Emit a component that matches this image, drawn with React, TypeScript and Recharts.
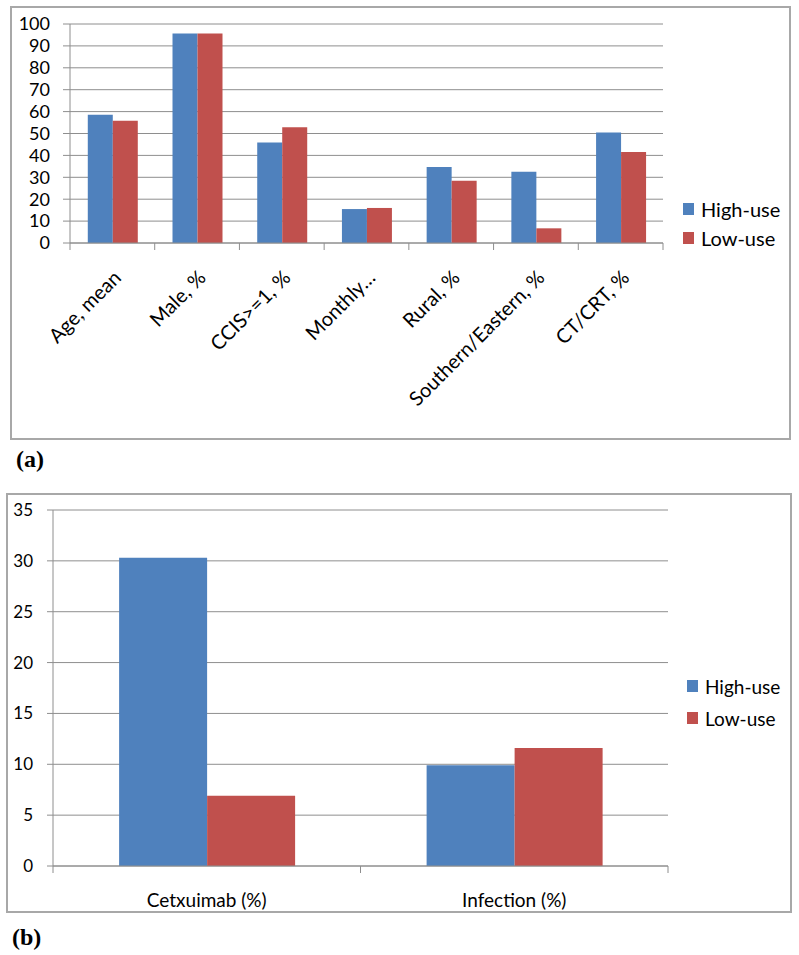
import { BarChart, Bar, XAxis, YAxis, CartesianGrid, Legend } from "recharts";

const categoriesA = [
  "Age, mean",
  "Male, %",
  "CCIS>=1, %",
  "Monthly…",
  "Rural, %",
  "Southern/Eastern, %",
  "CT/CRT, %",
];
const highUseA = [58.6, 95.7, 45.9, 15.5, 34.7, 32.5, 50.5];
const lowUseA = [55.8, 95.7, 52.9, 16, 28.4, 6.7, 41.5];
const ticksA = [0, 10, 20, 30, 40, 50, 60, 70, 80, 90, 100];

const categoriesB = ["Cetxuimab (%)", "Infection (%)"];
const highUseB = [30.3, 9.9];
const lowUseB = [6.9, 11.6];
const ticksB = [0, 5, 10, 15, 20, 25, 30, 35];

const BLUE = "#4F81BD";
const RED = "#C0504D";
const GRID = "#8e8e8e";

const dataA = categoriesA.map((name, i) => ({
  name,
  high: highUseA[i],
  low: lowUseA[i],
}));
const dataB = categoriesB.map((name, i) => ({
  name,
  high: highUseB[i],
  low: lowUseB[i],
}));

type TickProps = {
  x?: number;
  y?: number;
  index?: number;
  visibleTicksCount?: number;
  payload?: { value: string };
};

function BoundaryMarks({ x, y, half, last }: { x: number; y: number; half: number; last: boolean }) {
  return (
    <>
      <line x1={x - half} x2={x - half} y1={y} y2={y + 7} stroke={GRID} />
      {last && <line x1={x + half} x2={x + half} y1={y} y2={y + 7} stroke={GRID} />}
    </>
  );
}

function makeRotatedTick(half: number) {
  return function RotatedTick({ x = 0, y = 0, index = 0, visibleTicksCount = 0, payload }: TickProps) {
    return (
      <g>
        <BoundaryMarks x={x} y={y} half={half} last={index === visibleTicksCount - 1} />
        <text
          transform={`translate(${x + 10},${y + 36}) rotate(-45)`}
          textAnchor="end"
          fontSize={20}
          fill="#000"
        >
          {payload?.value}
        </text>
      </g>
    );
  };
}

function makeFlatTick(half: number) {
  return function FlatTick({ x = 0, y = 0, index = 0, visibleTicksCount = 0, payload }: TickProps) {
    return (
      <g>
        <BoundaryMarks x={x} y={y} half={half} last={index === visibleTicksCount - 1} />
        <text x={x} y={y + 41} textAnchor="middle" fontSize={19} fill="#000">
          {payload?.value}
        </text>
      </g>
    );
  };
}

function LegendBox({ payload, rowH, fontSize }: { payload?: any[]; rowH: number; fontSize: number }) {
  return (
    <div>
      {(payload ?? []).map((p) => (
        <div key={p.value} style={{ display: "flex", alignItems: "center", height: rowH }}>
          <span
            style={{ width: 11, height: 12, background: p.color, marginRight: 7, display: "inline-block" }}
          />
          <span style={{ fontSize, color: "#000" }}>{p.value}</span>
        </div>
      ))}
    </div>
  );
}

const PLOT_A = { left: 70, right: 663 };
const PLOT_B = { left: 53, right: 668 };
const halfA = (PLOT_A.right - PLOT_A.left) / categoriesA.length / 2;
const halfB = (PLOT_B.right - PLOT_B.left) / categoriesB.length / 2;

export default function App() {
  return (
    <div
      style={{
        position: "absolute",
        left: 0,
        top: 0,
        width: 799,
        height: 955,
        background: "#fff",
        fontFamily: "Lato, sans-serif",
      }}
    >
      <div
        style={{
          position: "absolute",
          left: 10,
          top: 6,
          width: 781,
          height: 434,
          border: "2px solid #a8a8a8",
          boxSizing: "border-box",
        }}
      />
      <div
        style={{
          position: "absolute",
          left: 6,
          top: 493,
          width: 786,
          height: 420,
          border: "2px solid #a8a8a8",
          boxSizing: "border-box",
        }}
      />

      <div style={{ position: "absolute", left: 0, top: 0 }}>
        <BarChart
          width={799}
          height={450}
          data={dataA}
          margin={{ top: 24, right: 799 - PLOT_A.right, bottom: 0, left: 0 }}
          barCategoryGap="21%"
          barGap={0}
        >
          <CartesianGrid vertical={false} stroke={GRID} />
          <XAxis
            dataKey="name"
            height={207}
            interval={0}
            tickLine={false}
            tickSize={0}
            tickMargin={0}
            axisLine={{ stroke: GRID }}
            tick={makeRotatedTick(halfA)}
          />
          <YAxis
            width={PLOT_A.left}
            domain={[0, 100]}
            ticks={ticksA}
            interval={0}
            tickSize={7}
            tickMargin={13}
            tickLine={{ stroke: GRID }}
            axisLine={{ stroke: GRID }}
            tick={{ fontSize: 18, fill: "#000" }}
          />
          <Bar dataKey="high" name="High-use" fill={BLUE} isAnimationActive={false} />
          <Bar dataKey="low" name="Low-use" fill={RED} isAnimationActive={false} />
          <Legend
            layout="vertical"
            align="center"
            verticalAlign="middle"
            wrapperStyle={{ left: 683, top: 194, width: 112 }}
            content={(props: any) => <LegendBox payload={props.payload} rowH={29} fontSize={20} />}
          />
        </BarChart>
      </div>

      <div style={{ position: "absolute", left: 0, top: 480 }}>
        <BarChart
          width={799}
          height={460}
          data={dataB}
          margin={{ top: 30, right: 799 - PLOT_B.right, bottom: 0, left: 0 }}
          barCategoryGap="21.5%"
          barGap={0}
        >
          <CartesianGrid vertical={false} stroke={GRID} />
          <XAxis
            dataKey="name"
            height={74}
            interval={0}
            tickLine={false}
            tickSize={0}
            tickMargin={0}
            axisLine={{ stroke: GRID }}
            tick={makeFlatTick(halfB)}
          />
          <YAxis
            width={PLOT_B.left}
            domain={[0, 35]}
            ticks={ticksB}
            interval={0}
            tickSize={6}
            tickMargin={14}
            tickLine={{ stroke: GRID }}
            axisLine={{ stroke: GRID }}
            tick={{ fontSize: 17, fill: "#000" }}
          />
          <Bar dataKey="high" name="High-use" fill={BLUE} isAnimationActive={false} />
          <Bar dataKey="low" name="Low-use" fill={RED} isAnimationActive={false} />
          <Legend
            layout="vertical"
            align="center"
            verticalAlign="middle"
            wrapperStyle={{ left: 687, top: 190, width: 110 }}
            content={(props: any) => <LegendBox payload={props.payload} rowH={32} fontSize={19} />}
          />
        </BarChart>
      </div>

      <div
        style={{
          position: "absolute",
          left: 16,
          top: 445,
          fontFamily: "'Liberation Serif', serif",
          fontWeight: "bold",
          fontSize: 24,
          lineHeight: "28px",
        }}
      >
        (a)
      </div>
      <div
        style={{
          position: "absolute",
          left: 12,
          top: 923,
          fontFamily: "'Liberation Serif', serif",
          fontWeight: "bold",
          fontSize: 24,
          lineHeight: "28px",
        }}
      >
        (b)
      </div>
    </div>
  );
}
